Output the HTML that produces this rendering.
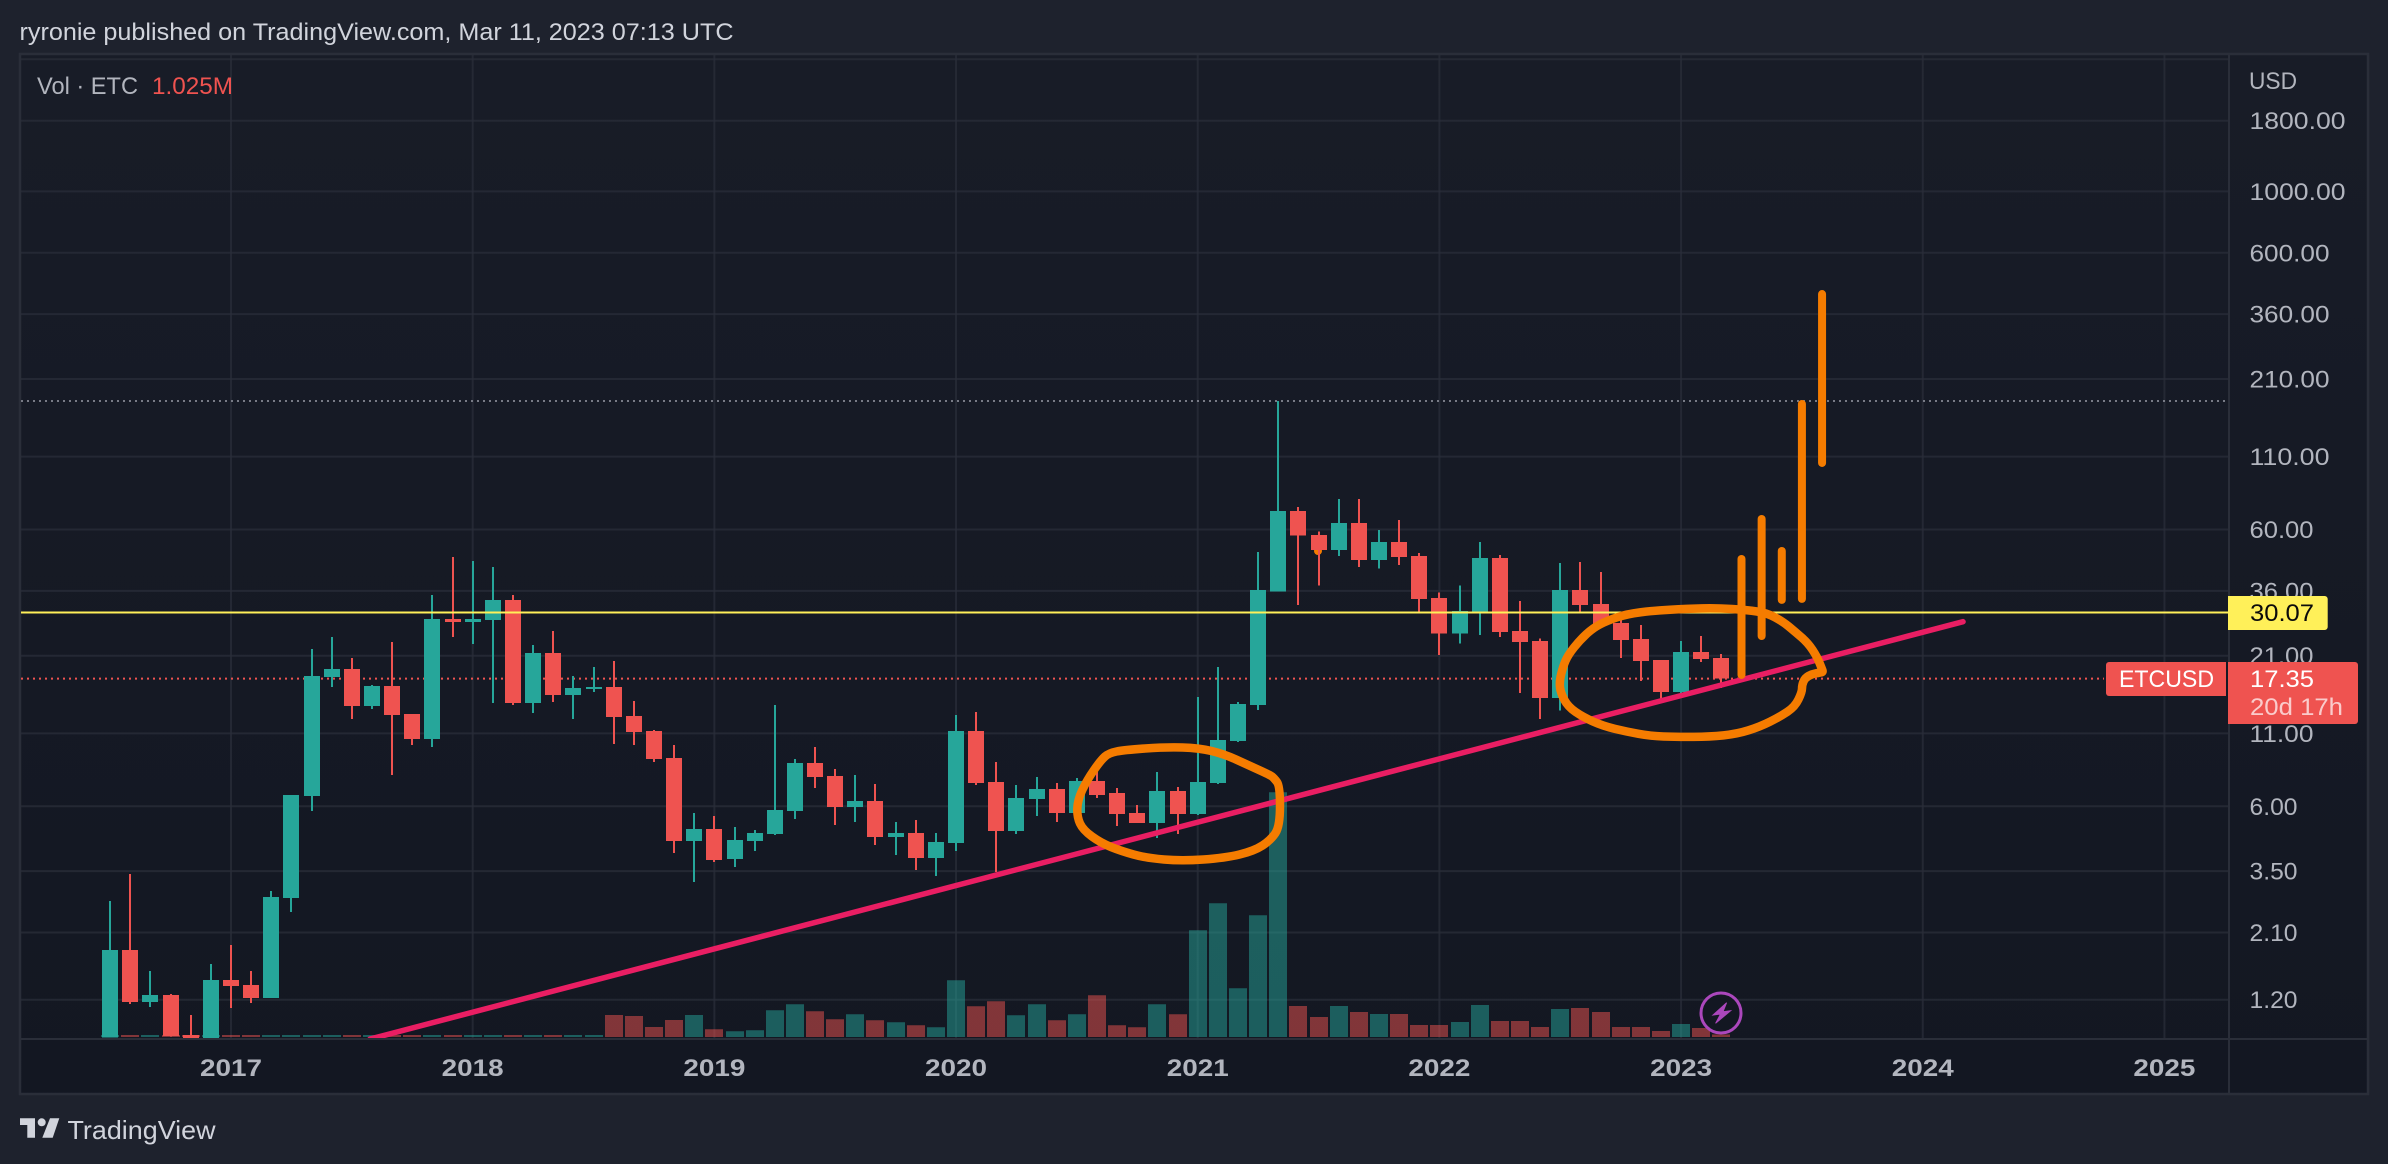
<!DOCTYPE html>
<html lang="en">
<head>
<meta charset="utf-8">
<title>ETCUSD monthly chart</title>
<style>
html,body{margin:0;padding:0;background:#1e222d;width:2388px;height:1164px;overflow:hidden}
svg{display:block}
text{font-family:"Liberation Sans",sans-serif}
</style>
</head>
<body>
<svg id="chart" width="2388" height="1164" viewBox="0 0 2388 1164" xmlns="http://www.w3.org/2000/svg">
  <defs>
    <linearGradient id="paneFill" x1="0" y1="0" x2="0" y2="1">
      <stop offset="0" stop-color="#181c27"/>
      <stop offset="1" stop-color="#131722"/>
    </linearGradient>
    <clipPath id="paneClip"><rect x="21" y="55" width="2207" height="983"/></clipPath>
  </defs>

  <rect x="0" y="0" width="2388" height="1164" fill="#1e222d"/>
  <text x="19.5" y="40" font-size="24" fill="#d1d4dc" textLength="714" lengthAdjust="spacingAndGlyphs">ryronie published on TradingView.com, Mar 11, 2023 07:13 UTC</text>

  <rect x="20" y="54" width="2348" height="1040" fill="url(#paneFill)" stroke="#2a2e39" stroke-width="2.5"/>

  <g id="gridLayer"></g>
  <line x1="2229" y1="54" x2="2229" y2="1094" stroke="#2a2e39" stroke-width="2"/>
  <line x1="20" y1="1039" x2="2368" y2="1039" stroke="#2a2e39" stroke-width="2"/>

  <g clip-path="url(#paneClip)">
    <g id="levelLayer"></g>
    <g id="volumeLayer"></g>
    <circle cx="1318" cy="551" r="4" fill="#f57c00"/>
    <g id="candleLayer"></g>
    <g id="yellowLayer"></g>
    <g id="trendLayer"></g>
    <g id="projectionLayer"></g>
    <path class="scribble" d="M1077.6 800 L1087 780 L1101 760 L1109 753 L1124 750 L1166 747 L1199 748 L1224 754 L1248 765 L1270 775 L1274 778 L1280 786 L1280 826 L1271 840 L1254 851 L1225 858 L1182 861 L1146 858 L1121 851 L1101 843 L1083 830 L1077 817 Z" fill="none" stroke="#f57c00" stroke-width="8.5" stroke-linejoin="round" stroke-linecap="round"/>
    <path class="scribble" d="M1559.3 681.7 L1563 666.7 L1568 655 L1580 640 L1593 628 L1607 620.7 L1627 614 L1653 610.7 L1687 608.7 L1717 608 L1747 610 L1767 613 L1783 621.7 L1795 631.7 L1808 643 L1817 656.7 L1822 669 L1823 672 L1820 672.6 L1812 674 L1805 678 L1802 685 L1802 692 L1795 706.7 L1780 716.7 L1760 726.7 L1737 734 L1710 736.7 L1677 737 L1650 736 L1627 731.7 L1603 726 L1583 717 L1568 706.7 L1560.7 693 Z" fill="none" stroke="#f57c00" stroke-width="8.5" stroke-linejoin="round" stroke-linecap="round"/>
    <g>
      <circle cx="1721" cy="1013" r="20" fill="#131722" stroke="#ab47bc" stroke-width="3"/>
      <polygon points="1726.6,1002.7 1713,1015 1720.6,1014 1715.6,1023.3 1730.6,1010.7 1723,1011.7" fill="#ab47bc" stroke="#ab47bc" stroke-width="1"/>
    </g>
  </g>

  <g id="priceLabelLayer"></g>
  <g id="timeLabelLayer"></g>

  <text x="37" y="94" font-size="24" fill="#b2b5be" textLength="101" lengthAdjust="spacingAndGlyphs">Vol · ETC</text>
  <text x="152" y="94" font-size="24" fill="#ef5350" textLength="81" lengthAdjust="spacingAndGlyphs">1.025M</text>
  <text x="2249" y="89" font-size="24" fill="#b2b5be" textLength="48" lengthAdjust="spacingAndGlyphs">USD</text>

  <path d="M2228 596 H2324.7 a3 3 0 0 1 3 3 V627 a3 3 0 0 1 -3 3 H2228 Z" fill="#fff059"/>
  <text x="2250" y="621" font-size="24" fill="#0b0b0b" textLength="64" lengthAdjust="spacingAndGlyphs">30.07</text>
  <path d="M2109 662 H2226 V696 H2109 a3 3 0 0 1 -3 -3 V665 a3 3 0 0 1 3 -3 Z" fill="#ef5350"/>
  <text x="2119" y="687" font-size="24" fill="#ffffff" textLength="95" lengthAdjust="spacingAndGlyphs">ETCUSD</text>
  <path d="M2228 662 H2355 a3 3 0 0 1 3 3 V721 a3 3 0 0 1 -3 3 H2228 Z" fill="#ef5350"/>
  <text x="2250" y="687" font-size="24" fill="#ffffff" textLength="64" lengthAdjust="spacingAndGlyphs">17.35</text>
  <text x="2250" y="715" font-size="24" fill="#ffffff" fill-opacity="0.7" textLength="93" lengthAdjust="spacingAndGlyphs">20d 17h</text>

  <g>
    <polygon points="20,1118.3 35,1118.3 35,1137.7 27.3,1137.7 27.3,1125 20,1125" fill="#d1d4dc"/>
    <circle cx="41.7" cy="1122.3" r="4" fill="#d1d4dc"/>
    <polygon points="50,1118.3 59.3,1118.3 52.7,1137.7 42.3,1137.7" fill="#d1d4dc"/>
    <text x="67.5" y="1139" font-size="26" fill="#d1d4dc" textLength="148" lengthAdjust="spacingAndGlyphs">TradingView</text>
  </g>

<script>
const categories = ["2016-07","2016-08","2016-09","2016-10","2016-11","2016-12",
"2017-01","2017-02","2017-03","2017-04","2017-05","2017-06","2017-07","2017-08","2017-09","2017-10","2017-11","2017-12",
"2018-01","2018-02","2018-03","2018-04","2018-05","2018-06","2018-07","2018-08","2018-09","2018-10","2018-11","2018-12",
"2019-01","2019-02","2019-03","2019-04","2019-05","2019-06","2019-07","2019-08","2019-09","2019-10","2019-11","2019-12",
"2020-01","2020-02","2020-03","2020-04","2020-05","2020-06","2020-07","2020-08","2020-09","2020-10","2020-11","2020-12",
"2021-01","2021-02","2021-03","2021-04","2021-05","2021-06","2021-07","2021-08","2021-09","2021-10","2021-11","2021-12",
"2022-01","2022-02","2022-03","2022-04","2022-05","2022-06","2022-07","2022-08","2022-09","2022-10","2022-11","2022-12",
"2023-01","2023-02","2023-03"];
const opens = [0.875,1.813,1.177,1.249,0.896,0.873,
1.413,1.357,1.217,2.794,6.54,17.58,18.78,13.82,16.32,12.94,10.49,28.53,
27.8,28.29,33.4,14.18,21.48,15.15,15.9,16.18,12.72,11.22,8.96,4.49,
4.97,3.87,4.49,4.76,5.77,8.6,7.72,5.96,6.27,4.65,4.8,3.9,
4.42,11.22,7.34,4.88,6.37,6.93,5.67,7.4,6.7,5.67,5.22,6.81,
5.63,7.28,10.33,13.95,35.9,70.1,57.4,50.6,63.4,46.6,54.1,48.2,
34,25.3,30.2,47.3,25.8,23.7,14.8,36.3,32.3,27.6,24.1,20.26,
15.5,21.66,20.6];
const highs = [2.73,3.415,1.527,1.26,1.058,1.617,
1.892,1.527,2.967,6.6,22.17,24.51,20.58,16.46,23.55,12.94,34.76,47.78,
46.16,43.97,34.76,22.95,25.81,17.73,19.1,20.11,14.43,11.32,9.99,5.67,
5.53,5.05,4.93,13.93,8.89,9.82,8.18,7.78,7.22,5.27,5.35,4.8,
12.82,13.14,8.67,7.16,7.66,7.28,7.59,8.11,6.98,6.06,7.98,7.05,
14.89,19.11,14.29,49.8,174.8,72.5,58.9,77.2,77.2,59.8,64.9,49.3,
35.5,37.6,54.1,48.5,33.1,24.2,45.4,45.7,42.1,28.3,27.1,20.26,
23.7,24.7,21.3];
const lows = [0.875,1.16,1.13,0.884,0.873,0.873,
1.12,1.17,1.217,2.492,5.77,16.18,12.39,13.47,7.79,10,9.83,24.51,
23.15,14.18,13.94,13.05,14.31,12.39,15.54,10.08,10,8.67,4.07,3.2,
3.77,3.62,4.13,4.73,5.4,6.98,5.14,5.27,4.35,4,3.53,3.36,
4.13,7.16,3.47,4.76,5.53,5.27,5.67,6.43,5.09,5.22,4.61,4.76,
5.58,7.22,10.24,13.39,35.9,32,37.6,48.2,43.9,43.3,44.7,30,
21.1,23.2,25,24.5,15.4,12.4,13.3,30,27.1,20.6,17,14.64,
15.4,19.9,16.05];
const closes = [1.813,1.177,1.249,0.889,0.873,1.413,
1.345,1.217,2.818,6.6,17.73,18.78,13.82,16.32,12.83,10.49,28.53,27.8,
28.53,33.4,14.18,21.48,15.15,16.04,16.18,12.61,11.12,8.89,4.49,4.97,
3.84,4.53,4.8,5.82,8.6,7.66,5.96,6.27,4.65,4.8,3.9,4.46,
11.22,7.28,4.88,6.43,6.93,5.67,7.4,6.59,5.63,5.22,6.81,5.63,
7.34,10.41,14.05,36.3,70.1,57,50.6,63.4,46.6,54.1,47.8,33.6,
25.3,30.5,47.3,25.6,23.5,14.8,36.3,32,27.3,23.9,20.1,15.5,
21.66,20.43,17.35];
const volumes = [0.8,0.8,0.8,0.8,0.8,0.8,
0.8,0.8,0.8,0.8,0.8,0.8,0.8,0.8,0.8,0.8,0.8,0.8,
0.8,0.8,0.8,0.8,0.8,0.8,0.8,8.8,8.4,4,6.8,8.8,
3.1,2.3,2.7,10.7,13.1,10.3,7.1,9.1,6.7,5.9,4.7,3.9,
22.7,12.3,14.3,8.7,13.1,6.7,9.1,16.7,4.7,3.9,13.1,9.1,
42.7,53.5,19.5,48.7,97.9,12.4,8,12.4,10,9.2,9.2,4.8,
4.8,6,12.8,6.4,6.4,4,11.2,11.6,10,4,4,2.4,
5.2,3.6,1.025];
const priceTicks = [1800,1000,600,360,210,110,60,36,21,11,6,3.5,2.1,1.2];
const priceTickLabels = ["1800.00","1000.00","600.00","360.00","210.00","110.00","60.00","36.00","21.00","11.00","6.00","3.50","2.10","1.20"];
const hiddenPriceTicks = [3000];
const yearLabels = ["2017","2018","2019","2020","2021","2022","2023","2024","2025"];
const yearTickIndex = [6,18,30,42,54,66,78,90,102];
const lastPrice = [17.35];
const supportLevel = [30.07];
const allTimeHigh = [174.8];
const trendIndex = [12.9,92];
const trendPrice = [0.865,27.87];
const projectionIndex = [81,82,83,84,85];
const projectionHigh = [46.96,65.5,50.2,170.5,425.5];
const projectionLow = [17.89,24.74,33.4,33.7,104.4];

const NS = "http://www.w3.org/2000/svg";
const plot = { left: 21, right: 2228, bottom: 1037 };
function x(i) { return 231 + (i - 6) * 20.14; }
function y(p) { return 120.7 + 120.2 * Math.log(1800 / p); }
function volHeight(v) { return v / 0.4; }
function el(tag, attrs, parent) {
  const n = document.createElementNS(NS, tag);
  for (const k in attrs) n.setAttribute(k, attrs[k]);
  document.getElementById(parent).appendChild(n);
  return n;
}

// grid
priceTicks.concat(hiddenPriceTicks).forEach(function (p) {
  const g = el("line", { x1: plot.left, x2: plot.right, y1: y(p), y2: y(p), stroke: "#2a2e39", "stroke-width": 2, "stroke-opacity": 0.75 }, "gridLayer");
  
  
});
yearTickIndex.forEach(function (i) {
  const g = el("line", { x1: x(i), x2: x(i), y1: 55, y2: 1038, stroke: "#2a2e39", "stroke-width": 2, "stroke-opacity": 0.75 }, "gridLayer");
  
  
});

// axis labels
priceTicks.forEach(function (p, k) {
  const t = el("text", { x: 2249.5, y: y(p) + 8.5, "font-size": 24, fill: "#b2b5be", textLength: 16 * (priceTickLabels[k].length - 1), lengthAdjust: "spacingAndGlyphs" }, "priceLabelLayer");
  t.textContent = priceTickLabels[k];
  
  
});
yearTickIndex.forEach(function (i, k) {
  const t = el("text", { x: x(i) - 31, y: 1076, "font-size": 24, "font-weight": "bold", fill: "#b2b5be", textLength: 62, lengthAdjust: "spacingAndGlyphs" }, "timeLabelLayer");
  t.textContent = yearLabels[k];
  
  
});

// reference levels
const athLine = el("line", { x1: plot.left, x2: plot.right, y1: y(allTimeHigh[0]), y2: y(allTimeHigh[0]), stroke: "#787b86", "stroke-width": 2, "stroke-dasharray": "2 4" }, "levelLayer");


const lastLine = el("line", { x1: plot.left, x2: 2104, y1: y(lastPrice[0]), y2: y(lastPrice[0]), stroke: "#ef5350", "stroke-width": 2, "stroke-dasharray": "2 4" }, "levelLayer");



// volume
categories.forEach(function (c, i) {
  const up = closes[i] >= opens[i];
  const h = volHeight(volumes[i]);
  const b = el("rect", { x: Math.round(x(i)) - 9, y: plot.bottom - h, width: 18, height: h, fill: up ? "#26a69a" : "#ef5350", "fill-opacity": 0.5 }, "volumeLayer");
  
  
});

// candles
categories.forEach(function (c, i) {
  const up = closes[i] >= opens[i];
  const color = up ? "#26a69a" : "#ef5350";
  const cx = Math.round(x(i));
  const top = y(Math.max(opens[i], closes[i]));
  const bot = y(Math.min(opens[i], closes[i]));
  const wick = el("rect", { x: cx - 1, y: y(highs[i]), width: 2, height: y(lows[i]) - y(highs[i]), fill: color, "shape-rendering": "crispEdges" }, "candleLayer");
  
  
  const body = el("rect", { x: cx - 8, y: top, width: 16, height: Math.max(bot - top, 1), fill: color, "shape-rendering": "crispEdges" }, "candleLayer");
  
  
});

// support level line
const support = el("line", { x1: plot.left, x2: plot.right, y1: y(supportLevel[0]), y2: y(supportLevel[0]), stroke: "#fff059", "stroke-width": 2 }, "yellowLayer");



// trend line
const trend = el("line", { x1: x(trendIndex[0]), y1: y(trendPrice[0]), x2: x(trendIndex[1]), y2: y(trendPrice[1]), stroke: "#e91e63", "stroke-width": 5.5, "stroke-linecap": "round" }, "trendLayer");



// projection strokes
projectionIndex.forEach(function (i, k) {
  const s = el("line", { x1: x(i), x2: x(i), y1: y(projectionHigh[k]), y2: y(projectionLow[k]), stroke: "#f57c00", "stroke-width": 8, "stroke-linecap": "round" }, "projectionLayer");
  
  
});

// smooth the hand-drawn annotation outlines
document.querySelectorAll(".scribble").forEach(function (path) {
  const nums = path.getAttribute("d").match(/-?[\d.]+/g).map(Number);
  const pts = [];
  for (let k = 0; k < nums.length; k += 2) pts.push([nums[k], nums[k + 1]]);
  const mid = function (a, b) { return [(a[0] + b[0]) / 2, (a[1] + b[1]) / 2]; };
  const start = mid(pts[pts.length - 1], pts[0]);
  let d = "M" + start[0] + " " + start[1];
  pts.forEach(function (p, k) {
    const m = mid(p, pts[(k + 1) % pts.length]);
    d += " Q" + p[0] + " " + p[1] + " " + m[0] + " " + m[1];
  });
  path.setAttribute("d", d + " Z");
});
</script>
</svg>
</body>
</html>
